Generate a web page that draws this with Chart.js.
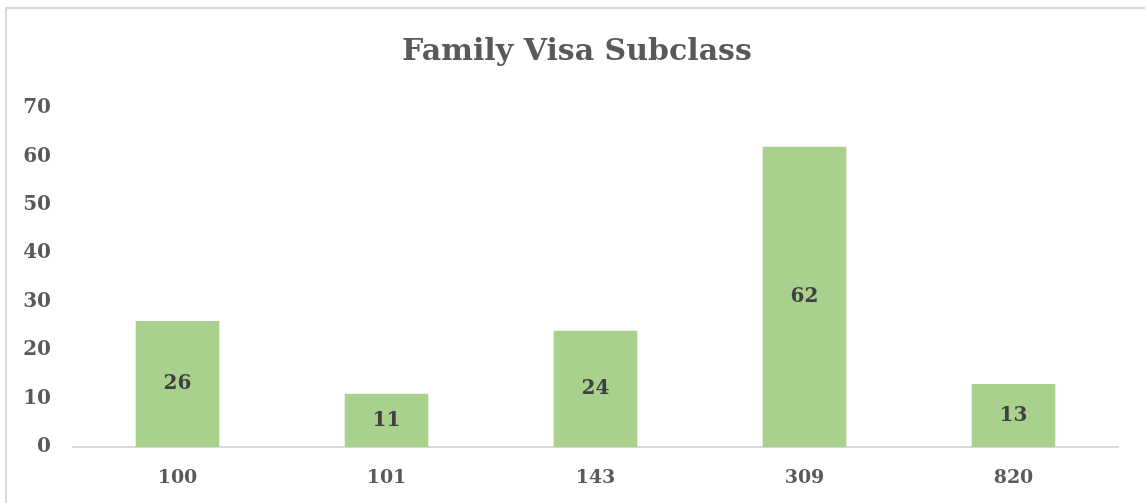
<!DOCTYPE html>
<html>
<head>
<meta charset="utf-8">
<script src="https://cdn.jsdelivr.net/npm/chart.js@4/dist/chart.umd.min.js"></script>
<style>
  html, body { margin: 0; padding: 0; background: #fff; overflow: hidden; }
  #wrap { position: relative; width: 1145px; height: 503px; }
  #frame {
    position: absolute; left: 5px; top: 7px; width: 1200px; height: 600px;
    border: 2px solid #d9d9d9; pointer-events: none;
  }
</style>
</head>
<body>
<div id="wrap">
  <canvas id="chart" width="1145" height="503"></canvas>
  <div id="frame"></div>
</div>
<script>
const categories = ["100", "101", "143", "309", "820"];
const counts = [26, 11, 24, 62, 13];
const yTicks = [0, 10, 20, 30, 40, 50, 60, 70];

const serif = "'DejaVu Serif', 'Liberation Serif', serif";

// value labels in the middle of each bar
const barLabels = {
  id: "barLabels",
  afterDatasetsDraw(chart) {
    const ctx = chart.ctx;
    const meta = chart.getDatasetMeta(0);
    ctx.save();
    ctx.font = "bold 20px " + serif;
    ctx.fillStyle = "#404040";
    ctx.textAlign = "center";
    ctx.textBaseline = "middle";
    meta.data.forEach((bar, i) => {
      const mid = (bar.y + bar.base) / 2;
      ctx.fillText(String(counts[i]), bar.x, mid);
    });
    ctx.restore();
  }
};

new Chart(document.getElementById("chart"), {
  type: "bar",
  data: {
    labels: categories,
    datasets: [{
      data: counts,
      backgroundColor: "#a9d18e",
      borderWidth: 0,
      barPercentage: 0.4,
      categoryPercentage: 1
    }]
  },
  options: {
    responsive: false,
    animation: false,
    layout: { padding: { left: 9, right: 0, top: 0, bottom: 0 } },
    plugins: {
      legend: { display: false },
      tooltip: { enabled: false },
      title: {
        display: true,
        text: "Family Visa Subclass",
        color: "#595959",
        font: { family: serif, size: 30, weight: "bold" },
        padding: { top: 34, bottom: 38 }
      }
    },
    scales: {
      x: {
        grid: { display: false, drawTicks: false },
        border: { display: true, color: "#d9d9d9", width: 2 },
        ticks: {
          color: "#595959",
          font: { family: serif, size: 19, weight: "bold" },
          padding: 20
        },
        afterFit(scale) { scale.height = 56; }
      },
      y: {
        min: 0,
        max: 70,
        afterBuildTicks(scale) { scale.ticks = yTicks.map(v => ({ value: v })); },
        grid: { display: false, drawTicks: false },
        border: { display: false },
        ticks: {
          color: "#595959",
          font: { family: serif, size: 20, weight: "bold" },
          padding: 22
        },
        afterFit(scale) { scale.width = 64; }
      },
      // empty right axis, only reserves the right margin
      yRight: {
        position: "right",
        min: 0,
        max: 70,
        grid: { display: false, drawTicks: false },
        border: { display: false },
        ticks: { display: false },
        afterFit(scale) { scale.width = 27; }
      }
    }
  },
  plugins: [barLabels]
});
</script>
</body>
</html>
